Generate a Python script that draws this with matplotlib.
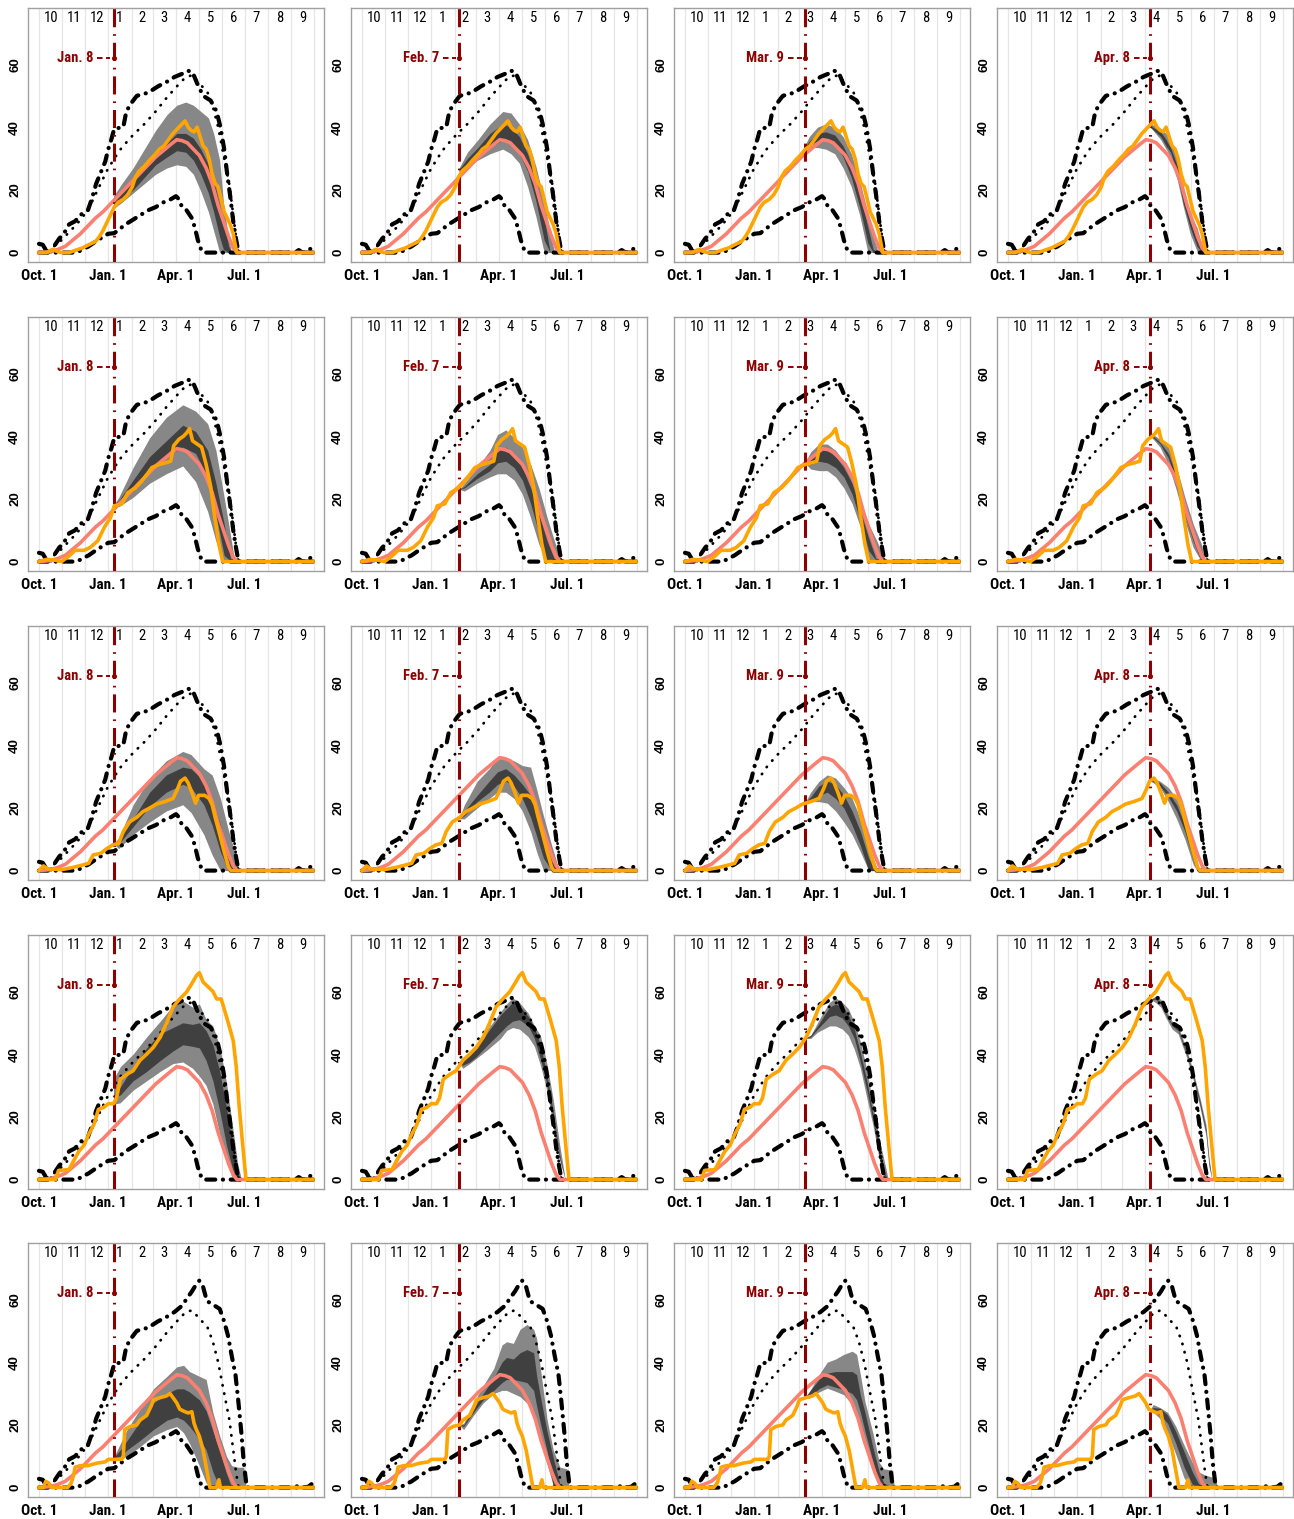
import matplotlib
matplotlib.use("Agg")
import matplotlib.pyplot as plt
from matplotlib import font_manager
from matplotlib.font_manager import FontProperties

# ---------------------------------------------------------------- calendar
month_start = [0, 31, 61, 92, 123, 151, 182, 212, 243, 273, 304, 335, 365]
month_names = ["10", "11", "12", "1", "2", "3", "4", "5", "6", "7", "8", "9"]
date_ticks = [0, 92, 182, 273]
date_tick_labels = ["Oct. 1", "Jan. 1", "Apr. 1", "Jul. 1"]
swe_ticks = [0, 20, 40, 60]
issue_days = [99, 129, 159, 189]
issue_labels = ["Jan. 8", "Feb. 7", "Mar. 9", "Apr. 8"]

# ---------------------------------------------------------------- climatology (days since Oct. 1)
med_days = [0, 15, 25, 35, 45, 55, 65, 75, 85, 95, 105, 115, 125, 135, 145, 155, 165, 175, 183,
            190, 197, 205, 213, 222, 230, 238, 245, 252, 258, 263, 364]
med_swe = [0, 0.3, 1, 2, 4, 6, 8.5, 11, 13, 15.5, 18, 20.5, 23, 25.5, 28, 30.5, 32.5, 34.5, 36,
           35.7, 35, 33, 31, 27, 22, 15, 10, 5, 1.5, 0, 0]

max_days = [0, 5, 10, 15, 20, 27, 33, 40, 48, 55, 65, 70, 76, 82, 88, 92, 96, 100, 112, 116,
            122, 130, 145, 158, 170, 180, 190, 198, 204, 210, 218, 228, 236, 241, 246, 250, 254,
            258, 262, 265, 340, 345, 350, 358, 364]
max_swe = [2.8, 2.5, 0.5, 0, 2, 4.5, 6, 9, 10, 12, 13.5, 17, 22, 25.5, 29, 33, 36, 39.5, 40, 45,
           47.5, 50, 51, 53, 54.5, 56, 57, 58, 57.5, 54, 50, 48.5, 45, 40, 33, 25, 18,
           10, 4, 0, 0, 0.8, 0, 0.3, 2.5]

max5_days = [0, 5, 10, 15, 20, 27, 33, 40, 48, 55, 65, 70, 76, 82, 88, 92, 96, 100, 112, 116,
             122, 130, 145, 158, 170, 180, 190, 197, 203, 208, 213, 218, 223, 230, 240, 246,
             251, 256, 261, 265, 269, 272, 276, 340, 345, 350, 358, 364]
max5_swe = [2.8, 2.5, 0.5, 0, 2, 4.5, 6, 9, 10, 12, 13.5, 17, 22, 25.5, 29, 33, 36, 39.5, 40, 45,
            47.5, 50, 51, 53, 54.5, 56, 58, 60.5, 62.5, 64.5, 66, 64, 59.5, 58.5, 57, 53,
            48.5, 42, 36, 27, 17, 8, 0, 0, 0.8, 0, 0.3, 1.5]

p90_days = [0, 10, 20, 30, 40, 50, 60, 70, 80, 90, 100, 110, 125, 140, 155, 170, 185, 195, 203,
            213, 224, 231, 238, 244, 253, 258, 262, 265, 364]
p90_swe = [0, 0.5, 2, 4, 6.5, 9, 12, 16, 21, 26, 30, 33.5, 37.5, 41, 45, 49.5, 53.5, 56, 56.5,
           54, 51, 46.5, 40, 32.5, 21.5, 12, 4.5, 0, 0]

min_days = [0, 50, 58, 66, 75, 85, 92, 100, 107, 115, 125, 135, 145, 155, 165, 175, 182, 186,
            190, 196, 203, 207, 211, 216, 219, 364]
min_swe = [0, 0, 1, 2, 3.5, 5, 6, 6.2, 7.5, 9, 10.5, 12, 13.5, 14.5, 16, 17, 18, 17,
           14.5, 13.5, 11, 8, 4, 0.5, 0, 0]

# ---------------------------------------------------------------- observed seasons
obs1_days = [0, 10, 18, 25, 30, 40, 48, 58, 66, 75, 80, 85, 90, 95, 100, 105, 112, 118, 124, 128,
             133, 140, 147, 155, 160, 166, 172, 178, 184, 190, 194, 198, 202, 206, 210, 214, 218,
             222, 226, 230, 234, 238, 242, 246, 250, 254, 258, 261, 263, 364]
obs1_swe = [0, 0, 1, 0.3, 0, 0, 0.7, 1.5, 2.5, 3.5, 5, 7, 9.5, 12, 14.5, 16, 17, 18.5, 21, 24,
            26, 27.5, 29.5, 31.5, 33, 34, 36, 38, 39.5, 41, 42, 40, 39, 38.5, 40, 37, 34,
            33, 30, 25, 22, 21, 17, 13, 11, 9, 6, 2, 0, 0]

obs2_days = [0, 10, 20, 30, 40, 48, 60, 68, 78, 87, 95, 100, 110, 118, 128, 136, 144, 150, 160,
             168, 175, 179, 186, 192, 196, 200, 204, 210, 216, 222, 228, 233, 239, 244, 364]
obs2_swe = [0, 0.7, 0.5, 0, 1.8, 3.6, 3.6, 4.5, 6.6, 11, 14, 17.8, 18.4, 22, 23.5, 25.5, 28, 30,
            31, 31.5, 32, 37, 39, 40, 41, 42.4, 38.5, 37.5, 36.5, 31, 24, 15, 5.5, 0, 0]

obs3_days = [0, 6, 12, 30, 45, 58, 66, 72, 82, 90, 98, 106, 112, 120, 130, 138, 146, 156, 167,
             178, 184, 188, 194, 198, 203, 208, 212, 220, 226, 230, 234, 239, 246, 252, 255, 364]
obs3_swe = [0, 1.5, 0.5, 0.3, 1, 1.8, 2.3, 5, 5.5, 7, 8.2, 8.7, 12.5, 15.5, 17, 18.8, 19.8, 21.2,
            22, 23, 26, 28.5, 29.5, 28, 25, 21.5, 24, 24, 23, 21, 17, 12.5, 6, 1, 0, 0]

obs4_days = [0, 22, 26, 40, 46, 53, 60, 66, 73, 79, 86, 92, 99, 103, 108, 117, 125, 134, 143,
             152, 161, 169, 178, 187, 196, 203, 209, 213, 218, 225, 231, 236, 242, 249, 253,
             258, 262, 266, 271, 275, 364]
obs4_swe = [0, 0, 2.9, 3.2, 6, 9, 11, 14.4, 17.6, 22.4, 23, 24.2, 24.2, 26, 32, 33.6, 34.7, 38,
            40, 42.2, 45.4, 49.6, 55, 57.6, 59.8, 62.5, 65, 66, 63, 61.4, 60, 57.6, 57.6, 52,
            48.6, 44.3, 36, 23, 10, 0, 0]

obs5_days = [0, 6, 9, 13, 17, 38, 43, 46, 48, 55, 65, 77, 88, 92, 110, 112, 114, 121, 130, 134,
             143, 149, 152, 161, 169, 174, 178, 183, 187, 192, 198, 203, 206, 209, 213, 218,
             222, 227, 236, 239, 241, 364]
obs5_swe = [0, 0, 2, 1.4, 0, 0, 1.5, 4, 6.5, 7, 7, 7.8, 8.2, 9, 9, 10, 18.5, 19.5, 20, 21.5,
            23, 26, 28, 28.7, 29.2, 30, 28.7, 27, 25, 24.4, 23.8, 24.2, 20.5, 18.5, 16.4, 12,
            6.7, 0, 0, 2.5, 0, 0]

# ---------------------------------------------------------------- ensemble forecasts (5/25/75/95 %)
# season 1
fc1_jan_days = [99, 110, 125, 140, 155, 170, 183, 195, 205, 215, 225, 232, 240, 245, 252, 256]
fc1_jan_q95 = [18, 22, 27, 33, 39, 44, 47, 48, 47, 45, 43, 38, 29.5, 16, 4, 0]
fc1_jan_q75 = [16, 19, 23, 28, 32, 35, 38, 38, 36.5, 33, 28, 23, 15, 10, 2, 0]
fc1_jan_q25 = [15, 17, 20, 24, 28, 30.5, 32.5, 32, 29.5, 25, 19, 13, 5, 1, 0, 0]
fc1_jan_q05 = [14, 16, 19, 22, 25, 27, 28, 27.5, 25, 19.5, 13, 7, 0, 0, 0, 0]

fc1_feb_days = [129, 140, 154, 170, 187, 198, 209, 220, 231, 242, 250, 256]
fc1_feb_q95 = [27, 32, 36, 41, 45, 44.5, 41, 36, 27.5, 16.5, 6, 0]
fc1_feb_q75 = [26.5, 30, 33.5, 38, 41, 40, 37, 31.5, 23, 11, 0, 0]
fc1_feb_q25 = [26, 28.5, 30.5, 33.5, 36, 35, 31.5, 26, 16.5, 4, 0, 0]
fc1_feb_q05 = [25.5, 27.5, 29.5, 31.5, 33, 31.5, 28.5, 21, 11.5, 0, 0, 0]

fc1_mar_days = [159, 165, 176, 187, 199, 210, 221, 232, 243, 250, 257]
fc1_mar_q95 = [34, 37, 40, 41, 40, 37, 31.5, 23, 12.5, 5, 0]
fc1_mar_q75 = [33.5, 35.5, 38, 38.5, 37.5, 34, 28.5, 19, 8, 1, 0]
fc1_mar_q25 = [33, 34.5, 35.5, 36, 34.5, 30.5, 24, 14.5, 3, 0, 0]
fc1_mar_q05 = [32.5, 33.5, 33.5, 33, 31.5, 27, 21, 12, 0, 0, 0]

fc1_apr_days = [189, 196, 203, 210, 216, 225, 233, 242, 251, 258, 262]
fc1_apr_q95 = [41, 40.5, 39.5, 38, 36, 30.5, 21, 12.5, 8, 2, 0]
fc1_apr_q75 = [40.5, 39.5, 38.5, 36, 33.5, 27.5, 18, 10, 4, 0, 0]
fc1_apr_q25 = [40, 38.5, 37, 34, 32, 25, 15.5, 8, 2, 0, 0]
fc1_apr_q05 = [40, 38, 36, 33, 30.5, 23, 14.5, 6, 0.5, 0, 0]

# season 2
fc2_jan_days = [99, 106, 125, 147, 169, 191, 208, 224, 235, 246, 255, 260]
fc2_jan_q95 = [18, 20.5, 30, 39.5, 46, 50, 48, 44, 35.5, 20.5, 7.5, 0]
fc2_jan_q75 = [18, 19.5, 26, 33.5, 38.5, 43.5, 41.5, 35.5, 25, 12, 0, 0]
fc2_jan_q25 = [18, 18.5, 22.5, 29, 33.5, 36.5, 34.5, 27, 15, 2, 0, 0]
fc2_jan_q05 = [18, 17.5, 20.5, 25, 28, 30.5, 25.5, 16, 6.5, 0, 0, 0]

fc2_feb_days = [129, 136, 153, 170, 180, 191, 202, 213, 224, 235, 246, 257, 265]
fc2_feb_q95 = [23, 25, 30, 35.5, 40.5, 42, 39.5, 36.5, 31, 23.5, 14, 5.5, 0]
fc2_feb_q75 = [23, 24, 28, 31, 35.5, 36.5, 34.5, 30, 23.5, 15, 6.5, 0, 0]
fc2_feb_q25 = [23, 23.5, 26.5, 29, 31.5, 32, 30, 26, 18.5, 9, 0, 0, 0]
fc2_feb_q05 = [23, 22.5, 25, 27, 28, 28, 26, 21.5, 14, 5.5, 0, 0, 0]

fc2_mar_days = [159, 167, 178, 189, 200, 211, 222, 233, 244, 255, 264, 268]
fc2_mar_q95 = [31.5, 35, 37.5, 37.5, 35.5, 32, 27, 19.5, 12, 6.5, 1.5, 0]
fc2_mar_q75 = [31.5, 33, 35.5, 35.5, 33.5, 30, 25, 16, 7.5, 0, 0, 0]
fc2_mar_q25 = [31.5, 31, 32, 31.5, 30, 27, 21.5, 13, 3.5, 0, 0, 0]
fc2_mar_q05 = [31.5, 29.5, 29, 29, 27, 23.5, 18.5, 11, 0, 0, 0, 0]

fc2_apr_days = [189, 193, 202, 213, 224, 235, 246, 257, 262]
fc2_apr_q95 = [40, 40.5, 39, 36.5, 30, 20.5, 12, 5.5, 0]
fc2_apr_q75 = [40, 40, 38, 34.5, 27, 17.5, 8.5, 0, 0]
fc2_apr_q25 = [40, 39.5, 37.5, 33, 25, 15, 6.5, 0, 0]
fc2_apr_q05 = [40, 39, 36.5, 31, 22.5, 13, 4.5, 0, 0]

# season 3
fc3_jan_days = [99, 106, 125, 147, 169, 191, 202, 219, 230, 241, 252, 260, 266]
fc3_jan_q95 = [8.5, 10.5, 21, 29.5, 35, 38, 37, 32.5, 30.5, 23, 12.5, 6, 0]
fc3_jan_q75 = [8.5, 9.5, 16.5, 25, 30.5, 33, 32.5, 28.5, 23, 14.5, 4, 0, 0]
fc3_jan_q25 = [8.5, 8.5, 14, 20.5, 25, 27.5, 26.5, 21, 14.5, 6, 0, 0, 0]
fc3_jan_q05 = [8.5, 7, 11.5, 15.5, 19, 21, 18.5, 11.5, 5, 0, 0, 0, 0]

fc3_feb_days = [129, 136, 153, 169, 180, 191, 202, 213, 224, 232, 241, 252, 262]
fc3_feb_q95 = [16.5, 21, 28.5, 32.5, 36, 36, 35, 33.5, 33, 26, 17.5, 8, 0]
fc3_feb_q75 = [16.5, 19, 24, 28.5, 31.5, 32.5, 30.5, 27.5, 24, 18, 11, 3, 0]
fc3_feb_q25 = [16.5, 17.5, 22, 25, 27.5, 28.5, 27, 23, 17, 11, 4, 0, 0]
fc3_feb_q05 = [16.5, 16.5, 20, 23, 25, 25, 23, 19, 12.5, 6, 0, 0, 0]

fc3_mar_days = [159, 167, 178, 189, 200, 211, 222, 233, 244, 253, 257]
fc3_mar_q95 = [21.5, 25, 28.5, 30.5, 29.5, 26.5, 23, 16.5, 8, 2, 0]
fc3_mar_q75 = [21.5, 23.5, 27, 28.5, 27.5, 24, 19, 12.5, 4, 0, 0]
fc3_mar_q25 = [21.5, 22.5, 24, 25, 23, 20, 14.5, 8, 0, 0, 0]
fc3_mar_q05 = [21.5, 22, 22, 21.5, 19, 15.5, 11.5, 6, 0, 0, 0]

fc3_apr_days = [189, 193, 202, 213, 224, 235, 246, 251, 254]
fc3_apr_q95 = [28.5, 29.5, 28.5, 26.5, 23, 16.5, 8, 3.5, 0]
fc3_apr_q75 = [28.5, 29, 28, 25, 21, 14.5, 5.5, 1, 0]
fc3_apr_q25 = [28.5, 28.5, 27, 23.5, 19, 12.5, 3.5, 0, 0]
fc3_apr_q05 = [28.5, 28, 26.5, 22, 16.5, 10, 2, 0, 0]

# season 4
fc4_jan_days = [99, 108, 125, 143, 161, 178, 191, 204, 213, 222, 231, 240, 249, 258, 264, 269]
fc4_jan_q95 = [32, 36, 40, 45.5, 50.5, 55.5, 57, 55, 56, 51, 49, 42.5, 31, 15.5, 5, 0]
fc4_jan_q75 = [27, 29.5, 36, 42, 46.5, 48.5, 50, 49.5, 50, 47.5, 43, 34.5, 23, 10, 2, 0]
fc4_jan_q25 = [26, 27, 31.5, 34.5, 38, 41, 43, 42.5, 42, 38, 31.5, 22, 11, 2.5, 0, 0]
fc4_jan_q05 = [24, 24.5, 28.5, 31.5, 34.5, 37, 37.5, 35.5, 33, 30, 24, 14.5, 5.5, 0, 0, 0]

fc4_feb_days = [129, 134, 143, 151, 167, 184, 192, 200, 209, 221, 229, 237, 246, 254, 262, 270]
fc4_feb_q95 = [37, 38.5, 40.5, 43, 48, 53.5, 56, 58, 56.5, 53, 49, 46, 36.5, 25.5, 12, 0]
fc4_feb_q75 = [37, 38, 39.5, 41.5, 47, 52.5, 54.5, 56.5, 55.5, 52, 48.5, 43, 33, 21.5, 8.5, 0]
fc4_feb_q25 = [37, 36.5, 37.5, 39, 43, 47, 49, 50.5, 51, 49, 45, 38.5, 30, 19.5, 7.5, 0]
fc4_feb_q05 = [37, 35.5, 37, 38.5, 41.5, 45, 47.5, 48.5, 48, 45.5, 42.5, 36.5, 28, 17, 6.5, 0]

fc4_mar_days = [159, 167, 176, 184, 192, 200, 209, 217, 225, 233, 242, 250, 258, 266, 270]
fc4_mar_q95 = [45, 46, 50, 53.5, 56.5, 58, 56.5, 54.5, 50, 44, 34.5, 23.5, 13, 4.5, 0]
fc4_mar_q75 = [45, 46, 49, 52, 55, 56, 55, 52.5, 48, 40.5, 31, 20.5, 10, 1.5, 0]
fc4_mar_q25 = [45, 45.5, 48, 50, 52, 52.5, 51.5, 49, 45, 37.5, 28, 18.5, 7.5, 0, 0]
fc4_mar_q05 = [45, 45, 47, 48, 49, 49, 48, 46, 41.5, 35.5, 25.5, 17, 6.5, 0, 0]

fc4_apr_days = [189, 196, 203, 210, 218, 226, 238, 247, 255, 263, 267, 271]
fc4_apr_q95 = [57.5, 58.5, 57.5, 54, 50.5, 49, 41, 33.5, 26, 17.5, 7, 0]
fc4_apr_q75 = [57.5, 58, 56.5, 53, 49.5, 48, 40, 32.5, 25, 16, 6, 0]
fc4_apr_q25 = [57.5, 57.5, 56, 52.5, 49, 47.5, 39.5, 32, 24, 15, 5, 0]
fc4_apr_q05 = [57.5, 56.5, 55, 51.5, 48, 46.5, 38.5, 31, 23, 14, 4, 0]

# season 5
fc5_jan_days = [99, 108, 117, 134, 152, 170, 183, 192, 200, 213, 222, 231, 240, 249, 256, 264, 272, 275]
fc5_jan_q95 = [9.5, 14, 18.5, 25, 31.5, 35.5, 38.5, 39, 37, 35.5, 34.5, 24, 16.5, 10, 7, 6.5, 6.5, 0]
fc5_jan_q75 = [9.5, 12, 15, 21, 27, 30, 31.5, 31.5, 30.5, 28, 24.5, 18, 11.5, 4.5, 0, 0, 0, 0]
fc5_jan_q25 = [9.5, 10, 12, 15, 18.5, 21.5, 22.5, 21.5, 19.5, 15.5, 12, 5, 0, 0, 0, 0, 0, 0]
fc5_jan_q05 = [9.5, 9, 10, 13, 16.5, 18.5, 19.5, 17.5, 14, 7, 1.5, 0, 0, 0, 0, 0, 0, 0]

fc5_feb_days = [129, 135, 148, 161, 175, 186, 192, 201, 210, 219, 228, 232, 237, 246, 254, 263, 272, 275]
fc5_feb_q95 = [20, 20.5, 27, 32.5, 38, 45.5, 46.5, 46, 50.5, 52, 50.5, 47.5, 38, 21.5, 12, 6.5, 6, 0]
fc5_feb_q75 = [20, 20, 25, 30, 35, 40, 41.5, 41, 43, 44, 43, 35.6, 29, 17.7, 9.5, 1, 0, 0]
fc5_feb_q25 = [20, 19.5, 24, 28, 31, 33.5, 34.5, 34.5, 34, 33.5, 31, 26, 20.5, 11.5, 0.5, 0, 0, 0]
fc5_feb_q05 = [20, 18.5, 23, 27, 30, 31, 31, 30, 29, 27, 23, 19, 15.5, 7.5, 0.5, 0, 0, 0]

fc5_mar_days = [159, 165, 178, 189, 200, 211, 222, 228, 233, 239, 250, 258, 264, 276, 278]
fc5_mar_q95 = [28.7, 30.5, 36, 40, 41, 42.5, 43.5, 42.5, 36, 27.5, 17, 8, 6, 5.5, 0]
fc5_mar_q75 = [28.7, 30.5, 34.5, 36.5, 37, 37, 37, 36, 29.5, 24, 12.5, 5, 1.5, 0, 0]
fc5_mar_q25 = [28.7, 29, 31.5, 32.8, 32, 31.3, 30, 28, 24, 18, 8, 1, 0, 0, 0]
fc5_mar_q05 = [28.7, 28.5, 30.5, 31.7, 30.7, 29.6, 26.5, 23, 20, 15.5, 6, 0, 0, 0, 0]

fc5_apr_days = [189, 193, 202, 212, 223, 234, 245, 253, 262, 276, 278]
fc5_apr_q95 = [25, 26.5, 25.5, 24, 19.5, 13.5, 8, 5, 4, 3, 0]
fc5_apr_q75 = [25, 25.5, 25.3, 23.2, 17.8, 11.4, 5, 1.3, 0, 0, 0]
fc5_apr_q25 = [25, 24.5, 23.2, 20.5, 14, 6.5, 1, 0, 0, 0, 0]
fc5_apr_q05 = [25, 24, 22, 17.5, 10.5, 3, 0, 0, 0, 0, 0]

# ---------------------------------------------------------------- assemble per panel
observed = [(obs1_days, obs1_swe), (obs2_days, obs2_swe), (obs3_days, obs3_swe),
            (obs4_days, obs4_swe), (obs5_days, obs5_swe)]
upper_env = [(max_days, max_swe)] * 4 + [(max5_days, max5_swe)]
forecasts = [
    [(fc1_jan_days, fc1_jan_q05, fc1_jan_q25, fc1_jan_q75, fc1_jan_q95),
     (fc1_feb_days, fc1_feb_q05, fc1_feb_q25, fc1_feb_q75, fc1_feb_q95),
     (fc1_mar_days, fc1_mar_q05, fc1_mar_q25, fc1_mar_q75, fc1_mar_q95),
     (fc1_apr_days, fc1_apr_q05, fc1_apr_q25, fc1_apr_q75, fc1_apr_q95)],
    [(fc2_jan_days, fc2_jan_q05, fc2_jan_q25, fc2_jan_q75, fc2_jan_q95),
     (fc2_feb_days, fc2_feb_q05, fc2_feb_q25, fc2_feb_q75, fc2_feb_q95),
     (fc2_mar_days, fc2_mar_q05, fc2_mar_q25, fc2_mar_q75, fc2_mar_q95),
     (fc2_apr_days, fc2_apr_q05, fc2_apr_q25, fc2_apr_q75, fc2_apr_q95)],
    [(fc3_jan_days, fc3_jan_q05, fc3_jan_q25, fc3_jan_q75, fc3_jan_q95),
     (fc3_feb_days, fc3_feb_q05, fc3_feb_q25, fc3_feb_q75, fc3_feb_q95),
     (fc3_mar_days, fc3_mar_q05, fc3_mar_q25, fc3_mar_q75, fc3_mar_q95),
     (fc3_apr_days, fc3_apr_q05, fc3_apr_q25, fc3_apr_q75, fc3_apr_q95)],
    [(fc4_jan_days, fc4_jan_q05, fc4_jan_q25, fc4_jan_q75, fc4_jan_q95),
     (fc4_feb_days, fc4_feb_q05, fc4_feb_q25, fc4_feb_q75, fc4_feb_q95),
     (fc4_mar_days, fc4_mar_q05, fc4_mar_q25, fc4_mar_q75, fc4_mar_q95),
     (fc4_apr_days, fc4_apr_q05, fc4_apr_q25, fc4_apr_q75, fc4_apr_q95)],
    [(fc5_jan_days, fc5_jan_q05, fc5_jan_q25, fc5_jan_q75, fc5_jan_q95),
     (fc5_feb_days, fc5_feb_q05, fc5_feb_q25, fc5_feb_q75, fc5_feb_q95),
     (fc5_mar_days, fc5_mar_q05, fc5_mar_q25, fc5_mar_q75, fc5_mar_q95),
     (fc5_apr_days, fc5_apr_q05, fc5_apr_q25, fc5_apr_q75, fc5_apr_q95)],
]

# ---------------------------------------------------------------- fonts
_fonts = font_manager.fontManager.ttflist


def _is_bold(f):
    w = f.weight
    if isinstance(w, str):
        return w.lower() in ("bold", "heavy", "black", "semibold", "demibold", "extra bold")
    return w >= 600


def _is_narrow(f):
    return (str(f.stretch).lower() in ("condensed", "semi-condensed", "extra-condensed")
            or "Narrow" in f.name or "Condensed" in f.name)


def condensed_font(bold, size):
    prefs = ["Liberation Sans Narrow", "Roboto Condensed", "DejaVu Sans", "Noto Sans",
             "Open Sans", "Inter", "Lato", "Roboto"]
    cands = [f for f in _fonts if _is_narrow(f) and _is_bold(f) == bold
             and "Italic" not in f.fname and str(f.style) == "normal"]
    for p in prefs:
        for f in cands:
            if f.name.startswith(p):
                return FontProperties(fname=f.fname, size=size)
    if cands:
        return FontProperties(fname=cands[0].fname, size=size)
    return FontProperties(family=["Liberation Sans", "DejaVu Sans"],
                          weight="bold" if bold else "normal", size=size * 0.88)


tick_fp = condensed_font(True, 11)
issue_fp = condensed_font(True, 10.5)
month_fp = condensed_font(False, 10.5)
ylab_fp = FontProperties(family=["Liberation Sans", "DejaVu Sans"], weight="bold", size=9.5)

plt.rcParams["lines.scale_dashes"] = False

DARKRED = "#8B0000"
OUTER = "#878787"
INNER = "#404040"
SALMON = "#FA8072"
ORANGE = "#FFA500"
GRID = "#E6E6E6"
FRAME = "#A0A0A0"

W, H = 1294, 1519
fig = plt.figure(figsize=(W / 100, H / 100), dpi=100)
col_left = [28, 351, 674, 997]
row_top = [8, 317, 626, 935, 1243]
pw, ph = 296, 254

for r in range(5):
    for c in range(4):
        ax = fig.add_axes([col_left[c] / W, (H - row_top[r] - ph) / H, pw / W, ph / H])
        ax.set_xlim(-14.56, 378.56)
        ax.set_ylim(-3, 78)

        for d in month_start:
            ax.axvline(d, color=GRID, lw=0.9, zorder=0)
        for i, name in enumerate(month_names):
            ax.text((month_start[i] + month_start[i + 1]) / 2, 74.7, name, ha="center",
                    va="center", fontproperties=month_fp, zorder=1)

        fd, q05, q25, q75, q95 = forecasts[r][c]
        ax.fill_between(fd, q05, q95, color=OUTER, lw=0, zorder=1)
        ax.fill_between(fd, q25, q75, color=INNER, lw=0, zorder=2)

        ud, us = upper_env[r]
        ax.plot(ud, us, color="black", lw=3.0, dashes=(6.5, 5.5, 0.1, 5.5),
                dash_capstyle="round", zorder=3)
        ax.plot(p90_days, p90_swe, color="black", lw=2.0, dashes=(0.3, 5.8),
                dash_capstyle="round", zorder=3)
        ax.plot(min_days, min_swe, color="black", lw=3.0, dashes=(6.5, 5.5, 0.1, 5.5),
                dash_capstyle="round", zorder=3)

        ax.plot(med_days, med_swe, color=SALMON, lw=2.6, solid_capstyle="butt", zorder=4)

        iday = issue_days[c]
        ax.axvline(iday, color=DARKRED, lw=2.2, dashes=(13, 5, 1.2, 5), zorder=5)
        ax.text(iday - 27, 62, issue_labels[c], ha="right", va="center", color=DARKRED,
                fontproperties=issue_fp, zorder=6)
        ax.plot([iday - 22, iday - 4], [62, 62], color=DARKRED, lw=1.4, dashes=(4, 2.5),
                zorder=6)
        ax.plot([iday], [62], marker="o", ms=2.6, color=DARKRED, zorder=6)

        od, osw = observed[r]
        ax.plot(od, osw, color=ORANGE, lw=2.6, solid_joinstyle="round", zorder=7)

        ax.set_xticks(date_ticks)
        ax.set_xticklabels(date_tick_labels, fontproperties=tick_fp)
        ax.set_yticks(swe_ticks)
        ax.set_yticklabels([str(v) for v in swe_ticks], rotation=90, va="center",
                           fontproperties=ylab_fp)
        ax.tick_params(axis="x", length=0, pad=5)
        ax.tick_params(axis="y", length=0, pad=5)
        for s in ax.spines.values():
            s.set_color(FRAME)
            s.set_linewidth(1.0)

fig.savefig("out.png", dpi=100)
